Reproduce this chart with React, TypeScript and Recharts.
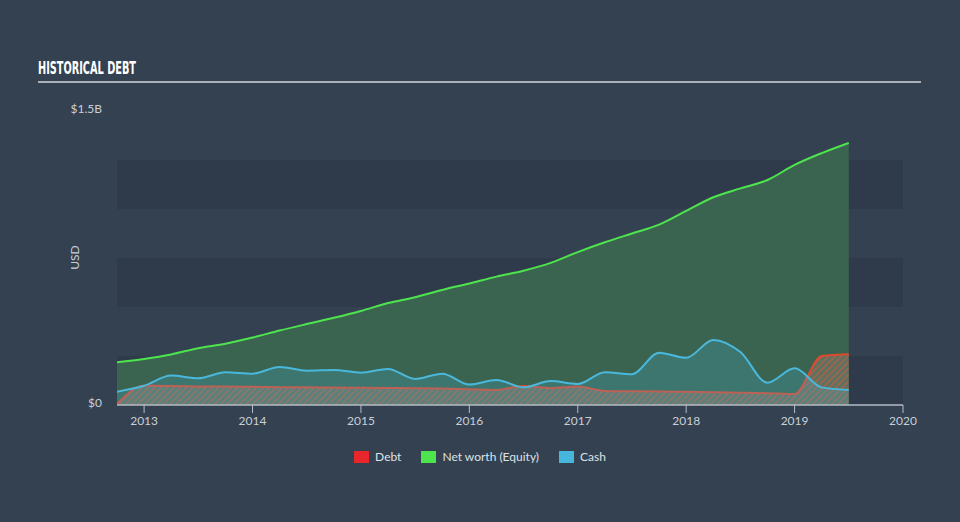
import React from "react"
import { ComposedChart, Area, XAxis, YAxis, ReferenceArea } from "recharts"

// quarterly points, values in billions USD
const years = [
  2012.75, 2013.0, 2013.25, 2013.5, 2013.75, 2014.0, 2014.25, 2014.5, 2014.75,
  2015.0, 2015.25, 2015.5, 2015.75, 2016.0, 2016.25, 2016.5, 2016.75,
  2017.0, 2017.25, 2017.5, 2017.75, 2018.0, 2018.25, 2018.5, 2018.75,
  2019.0, 2019.25, 2019.5,
]
const debt = [
  0.005, 0.098, 0.097, 0.095, 0.094, 0.093, 0.091, 0.09, 0.089,
  0.088, 0.087, 0.086, 0.084, 0.08, 0.077, 0.097, 0.086,
  0.094, 0.072, 0.07, 0.069, 0.067, 0.065, 0.063, 0.06,
  0.056, 0.25, 0.259,
]
const equity = [
  0.218, 0.235, 0.258, 0.29, 0.312, 0.344, 0.38, 0.413, 0.445,
  0.48, 0.52, 0.55, 0.587, 0.62, 0.655, 0.685, 0.725,
  0.78, 0.83, 0.875, 0.92, 0.99, 1.06, 1.105, 1.148,
  1.225, 1.285, 1.337,
]
const cash = [
  0.068, 0.098, 0.15, 0.136, 0.167, 0.16, 0.194, 0.175, 0.179,
  0.165, 0.184, 0.133, 0.16, 0.105, 0.128, 0.09, 0.122,
  0.107, 0.167, 0.157, 0.267, 0.241, 0.332, 0.27, 0.114,
  0.187, 0.09, 0.077,
]
const xTicks = [2013, 2014, 2015, 2016, 2017, 2018, 2019, 2020]
const yTicks = [0, 1.5]
const bands = [[0, 0.25], [0.5, 0.75], [1.0, 1.25]]

const legendItems = [
  { name: "Debt", color: "#e8272c" },
  { name: "Net worth (Equity)", color: "#4ee44e" },
  { name: "Cash", color: "#46b6dc" },
]

const data = years.map((t, i) => ({ t, debt: debt[i], equity: equity[i], cash: cash[i] }))

const BG = "#344151"
const FONT = "Lato, 'Open Sans', sans-serif"

function LegendRow() {
  return (
    <div style={{ display: "flex", justifyContent: "center", gap: 20, fontFamily: FONT, fontSize: 12, color: "#dde2e7" }}>
      {legendItems.map((it) => (
        <div key={it.name} style={{ display: "flex", alignItems: "center" }}>
          <span style={{ width: 15, height: 12, background: it.color, display: "inline-block", marginRight: 6 }} />
          {it.name}
        </div>
      ))}
    </div>
  )
}

export default function App() {
  return (
    <div style={{ position: "absolute", left: 0, top: 0, width: 960, height: 522, background: BG, overflow: "hidden" }}>
      <svg style={{ position: "absolute", left: 0, top: 0 }} width={960} height={90}>
        <text x={38} y={74} textLength={98} lengthAdjust="spacingAndGlyphs" fill="#ffffff"
          fontFamily="'DejaVu Sans Condensed', 'DejaVu Sans', sans-serif" fontWeight={700} fontSize={17}>
          HISTORICAL DEBT
        </text>
        <rect x={38} y={81} width={883} height={2} fill="#a9b0b8" />
      </svg>
      <div style={{ position: "absolute", left: 62, top: 250, transform: "rotate(-90deg)", transformOrigin: "center", color: "#c9cfd6", fontFamily: FONT, fontSize: 12 }}>
        USD
      </div>
      <ComposedChart width={960} height={522} data={data} margin={{ top: 111, right: 57, bottom: 87, left: 0 }}>
        <defs>
          <pattern id="hatch" patternUnits="userSpaceOnUse" width="4.5" height="4.5" patternTransform="rotate(45)">
            <rect width="4.5" height="4.5" fill="#8a8a80" fillOpacity="0.4" />
            <line x1="1" y1="0" x2="1" y2="4.5" stroke="#d0583a" strokeWidth="1.8" strokeOpacity="0.6" />
          </pattern>
        </defs>
        {bands.map(([a, b]) => (
          <ReferenceArea key={a} y1={a} y2={b} x1={2012.75} x2={2020} fill="#2f3b4a" fillOpacity={1} strokeOpacity={0} ifOverflow="hidden" />
        ))}
        <XAxis
          type="number"
          dataKey="t"
          domain={[2012.75, 2020]}
          ticks={xTicks}
          height={30}
          axisLine={{ stroke: "#b5bcc4", strokeWidth: 1.5 }}
          tickLine={{ stroke: "#b5bcc4" }}
          tickSize={8}
          tickMargin={3}
          tick={{ fill: "#c9cfd6", fontSize: 12, fontFamily: FONT }}
          allowDataOverflow
        />
        <YAxis
          type="number"
          domain={[0, 1.5]}
          ticks={yTicks}
          width={117}
          axisLine={false}
          tickLine={false}
          tickSize={0}
          tickMargin={15}
          tick={{ fill: "#c9cfd6", fontSize: 12, fontFamily: FONT, dy: -2 }}
          tickFormatter={(v: number) => (v === 0 ? "$0" : `$${v}B`)}
        />
        <Area type="monotone" dataKey="equity" stroke="#4ee44e" strokeWidth={2} fill="#3a6450" fillOpacity={1} isAnimationActive={false} />
        <Area type="monotone" dataKey="debt" stroke="#dd4a30" strokeWidth={2} fill="url(#hatch)" fillOpacity={1} isAnimationActive={false} />
        <Area type="monotone" dataKey="cash" stroke="#4ab8dc" strokeWidth={2} fill="#4ab8dc" fillOpacity={0.22} isAnimationActive={false} />
      </ComposedChart>
      <div style={{ position: "absolute", left: 0, top: 449, width: 960 }}>
        <LegendRow />
      </div>
    </div>
  )
}
